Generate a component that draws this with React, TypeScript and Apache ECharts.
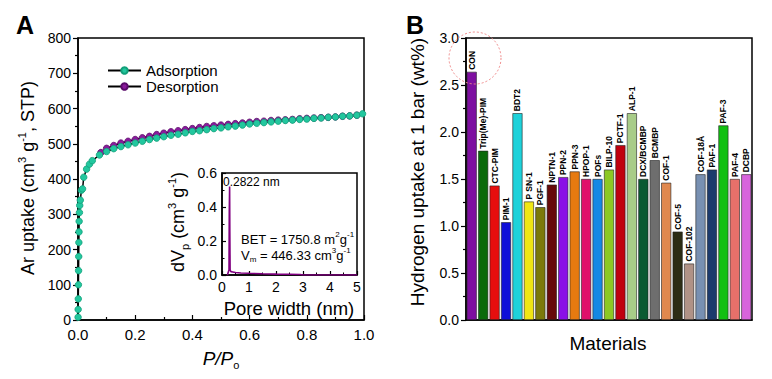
import React, { useEffect, useRef } from "react";
import * as echarts from "echarts";

const FONT = "'Liberation Sans', Arial, Helvetica, sans-serif";

// Panel A: Ar isotherm
const adsorptionP = [0.0003, 0.0006, 0.001, 0.0015, 0.002, 0.0025, 0.003, 0.0035, 0.004, 0.005, 0.006, 0.008, 0.012, 0.016, 0.02, 0.03, 0.04, 0.05, 0.075, 0.1, 0.125, 0.15, 0.175, 0.2, 0.225, 0.25, 0.275, 0.3, 0.325, 0.35, 0.375, 0.4, 0.425, 0.45, 0.475, 0.5, 0.525, 0.55, 0.575, 0.6, 0.625, 0.65, 0.675, 0.7, 0.725, 0.75, 0.775, 0.8, 0.825, 0.85, 0.875, 0.9, 0.925, 0.95, 0.975, 0.995];
const adsorptionV = [8, 30, 60, 100, 140, 180, 220, 250, 280, 305, 325, 340, 368, 372, 405, 428, 442, 452, 468, 478, 486, 492, 497, 502, 507, 512, 516, 520, 524, 527, 531, 535, 537, 540, 543, 545, 548, 550, 553, 556, 558, 560, 562, 564, 566, 567, 569, 570, 572, 573, 575, 576, 578, 579, 581, 585];
const desorptionP = [0.08, 0.1, 0.125, 0.15, 0.175, 0.2, 0.225, 0.25, 0.275, 0.3, 0.325, 0.35, 0.375, 0.4, 0.425, 0.45, 0.475, 0.5, 0.525, 0.55, 0.575, 0.6, 0.625, 0.65, 0.675, 0.7, 0.725, 0.75, 0.775, 0.8, 0.825, 0.85, 0.875, 0.9, 0.925, 0.95, 0.975];
const desorptionV = [475, 487, 495, 502, 507, 512, 517, 521, 526, 530, 534, 537, 540, 543, 546, 549, 551, 553, 555, 557, 559, 561, 563, 564, 566, 567, 568, 569, 571, 572, 573, 574, 575, 576, 578, 579, 581];

// Inset: pore size distribution
const poreWidth = [0.2, 0.24, 0.26, 0.27, 0.2822, 0.29, 0.3, 0.33, 0.4, 0.5, 0.7, 1.0, 1.5, 2.0, 2.5, 2.9, 3.0, 5.0];
const poreDv = [0, 0.02, 0.03, 0.38, 0.52, 0.25, 0.03, 0.02, 0.018, 0.015, 0.012, 0.01, 0.007, 0.005, 0.004, 0.003, 0, 0];

// Panel B: hydrogen uptake
const materials = ["CON", "Trip(Me)-PIM", "CTC-PIM", "PIM-1", "BDT2", "P SN-1", "PGF-1", "NPTN-1", "PPN-2", "PPN-3", "HPOP-1", "POFs", "BILP-10", "PCTF-1", "ALP-1", "DCX/BCMBP", "BCMBP", "COF-1", "COF-5", "COF-102", "COF-18Å", "PAF-1", "PAF-3", "PAF-4", "DCBP"];
const h2Uptake = [2.64, 1.8, 1.43, 1.04, 2.2, 1.26, 1.2, 1.44, 1.52, 1.58, 1.5, 1.5, 1.6, 1.86, 2.2, 1.5, 1.7, 1.46, 0.94, 0.6, 1.55, 1.6, 2.07, 1.5, 1.55];
const barColors = ["#7E0FA0", "#0A6A0A", "#E60E0E", "#0E0ED8", "#1ED2DA", "#F0E614", "#7C7A0A", "#660A0A", "#8A10E6", "#E67A10", "#E0106A", "#1488E4", "#8CC824", "#C0000E", "#A8CC88", "#0A5A32", "#6E6E6E", "#E0884E", "#2C2C14", "#B09286", "#7890B2", "#1C3A6C", "#12C012", "#E8706A", "#D864DC"];

const axisLine = { show: true, onZero: false, lineStyle: { color: "#000", width: 1.5 } };
const lbl = (size: number, digits: number) => ({
  color: "#000",
  fontSize: size,
  fontFamily: FONT,
  formatter: (v: number) => v.toFixed(digits),
});

export default function App() {
  const ref = useRef<HTMLDivElement>(null);
  useEffect(() => {
    document.body.style.margin = "0";
    if (!ref.current) return;
    const chart = echarts.init(ref.current, undefined, { renderer: "svg" });
    const supRich = {
      sup: { fontSize: 11, verticalAlign: "top", fontFamily: FONT, fill: "#000" },
      sub: { fontSize: 11, verticalAlign: "bottom", fontFamily: FONT, fill: "#000" },
      i: { fontSize: 19, fontStyle: "italic", fontFamily: FONT, fill: "#000" },
    };
    const smallRich = {
      sup: { fontSize: 8, verticalAlign: "top", fontFamily: FONT, fill: "#000" },
      sub: { fontSize: 8, verticalAlign: "bottom", fontFamily: FONT, fill: "#000" },
    };
    const option: any = {
      animation: false,
      backgroundColor: "#fff",
      textStyle: { fontFamily: FONT, color: "#000" },
      grid: [
        { left: 78, top: 38, width: 286, height: 282, show: true, borderColor: "#000", borderWidth: 1.5, backgroundColor: "transparent" },
        { left: 222, top: 173, width: 135, height: 102, show: true, borderColor: "#000", borderWidth: 1.5, backgroundColor: "#fff" },
        { left: 466, top: 38, width: 286, height: 282, show: true, borderColor: "#000", borderWidth: 1.5, backgroundColor: "transparent" },
      ],
      xAxis: [
        {
          gridIndex: 0, type: "value", min: 0, max: 1, interval: 0.2,
          axisLine, axisTick: { show: true, inside: true, length: 5, lineStyle: { color: "#000", width: 1.2 } },
          minorTick: { show: true, splitNumber: 2, length: 3, lineStyle: { color: "#000", width: 1.2 } },
          splitLine: { show: false }, axisLabel: { ...lbl(15, 1), margin: 7 },
        },
        {
          gridIndex: 1, type: "value", min: 0, max: 5, interval: 1,
          axisLine, axisTick: { show: true, inside: true, length: 4, lineStyle: { color: "#000", width: 1.2 } },
          minorTick: { show: true, splitNumber: 2, length: 2.5, lineStyle: { color: "#000", width: 1 } },
          splitLine: { show: false }, axisLabel: { ...lbl(14, 0), margin: 5 },
        },
        {
          gridIndex: 2, type: "category", data: materials,
          axisLine, axisTick: { show: false }, axisLabel: { show: false }, splitLine: { show: false },
        },
      ],
      yAxis: [
        {
          gridIndex: 0, type: "value", min: 0, max: 800, interval: 100,
          axisLine, axisTick: { show: true, inside: false, length: 5, lineStyle: { color: "#000", width: 1.2 } },
          minorTick: { show: true, splitNumber: 2, length: 3, lineStyle: { color: "#000", width: 1.2 } },
          splitLine: { show: false }, axisLabel: { ...lbl(14, 0), margin: 7 },
        },
        {
          gridIndex: 1, type: "value", min: 0, max: 0.6, interval: 0.2,
          axisLine, axisTick: { show: true, inside: true, length: 4, lineStyle: { color: "#000", width: 1.2 } },
          minorTick: { show: true, splitNumber: 2, length: 2.5, lineStyle: { color: "#000", width: 1 } },
          splitLine: { show: false }, axisLabel: { ...lbl(14, 1), margin: 5 },
        },
        {
          gridIndex: 2, type: "value", min: 0, max: 3, interval: 0.5,
          axisLine, axisTick: { show: true, inside: false, length: 5, lineStyle: { color: "#000", width: 1.2 } },
          minorTick: { show: true, splitNumber: 2, length: 3, lineStyle: { color: "#000", width: 1.2 } },
          splitLine: { show: false }, axisLabel: { ...lbl(14, 1), margin: 7 },
        },
      ],
      legend: {
        orient: "vertical", left: 102, top: 58, itemWidth: 33, itemHeight: 8, itemGap: 1,
        data: ["Adsorption", "Desorption"],
        textStyle: { fontSize: 15, fontFamily: FONT, color: "#000" },
      },
      series: [
        {
          name: "Desorption", type: "line", xAxisIndex: 0, yAxisIndex: 0,
          data: desorptionP.map((p, i) => [p, desorptionV[i]]),
          symbol: "circle", symbolSize: 6.5, showAllSymbol: true,
          lineStyle: { color: "#000", width: 1.5 },
          itemStyle: { color: "#8A1A9C", borderColor: "#5A0A6A", borderWidth: 0.8 },
        },
        {
          name: "Adsorption", type: "line", xAxisIndex: 0, yAxisIndex: 0,
          data: adsorptionP.map((p, i) => [p, adsorptionV[i]]),
          symbol: "circle", symbolSize: 6.5, showAllSymbol: true,
          lineStyle: { color: "#000", width: 1.5 },
          itemStyle: { color: "#22C79E", borderColor: "#12A07A", borderWidth: 0.8 },
        },
        {
          name: "PSD", type: "line", xAxisIndex: 1, yAxisIndex: 1,
          data: poreWidth.map((w, i) => [w, poreDv[i]]),
          symbol: "none", lineStyle: { color: "#800080", width: 1.6 },
        },
        {
          name: "H2", type: "bar", xAxisIndex: 2, yAxisIndex: 2,
          barWidth: 10,
          data: h2Uptake.map((v, i) => ({ value: v, itemStyle: { color: barColors[i] } })),
          itemStyle: { borderColor: "#222", borderWidth: 0.6 },
          label: {
            show: true, position: "top", rotate: 90, align: "left", verticalAlign: "middle",
            distance: 2, fontSize: 8.5, fontWeight: "bold", color: "#000", fontFamily: FONT,
            formatter: (p: any) => p.name,
          },
        },
      ],
      graphic: [
        { type: "text", x: 16, y: 25, style: { text: "A", fontSize: 25, fontWeight: "bold", fontFamily: FONT, fill: "#000", align: "left", verticalAlign: "middle" } },
        { type: "text", x: 406, y: 25, style: { text: "B", fontSize: 25, fontWeight: "bold", fontFamily: FONT, fill: "#000", align: "left", verticalAlign: "middle" } },
        {
          type: "text", x: 28, y: 178, rotation: Math.PI / 2,
          style: { text: "Ar uptake (cm{sup|3} g{sup|-1}, STP)", fontSize: 18, lineHeight: 24, fontFamily: FONT, fill: "#000", align: "center", verticalAlign: "middle", rich: supRich },
        },
        {
          type: "text", x: 221, y: 358,
          style: { text: "{i|P}{i|/}{i|P}{sub|o}", fontSize: 19, lineHeight: 24, fontFamily: FONT, fill: "#000", align: "center", verticalAlign: "middle", rich: supRich },
        },
        {
          type: "text", x: 178, y: 222, rotation: Math.PI / 2,
          style: { text: "dV{sub|p} (cm{sup|3} g{sup|-1})", fontSize: 18, lineHeight: 24, fontFamily: FONT, fill: "#000", align: "center", verticalAlign: "middle", rich: supRich },
        },
        { type: "text", x: 289, y: 308, style: { text: "Pore width (nm)", fontSize: 18.5, fontFamily: FONT, fill: "#000", align: "center", verticalAlign: "middle" } },
        { type: "text", x: 223, y: 182, z: 10, style: { text: "0.2822 nm", fontSize: 12, fontFamily: FONT, fill: "#000", align: "left", verticalAlign: "middle" } },
        { type: "text", x: 241, y: 239, z: 10, style: { text: "BET = 1750.8 m{sup|2}g{sup|-1}", fontSize: 13, lineHeight: 17, fontFamily: FONT, fill: "#000", align: "left", verticalAlign: "middle", rich: smallRich } },
        { type: "text", x: 241, y: 255, z: 10, style: { text: "V{sub|m} = 446.33 cm{sup|3}g{sup|-1}", fontSize: 13, lineHeight: 17, fontFamily: FONT, fill: "#000", align: "left", verticalAlign: "middle", rich: smallRich } },
        {
          type: "text", x: 417, y: 172, rotation: Math.PI / 2,
          style: { text: "Hydrogen uptake at 1 bar (wt%)", fontSize: 19, fontFamily: FONT, fill: "#000", align: "center", verticalAlign: "middle" },
        },
        { type: "text", x: 608, y: 343, style: { text: "Materials", fontSize: 19, fontFamily: FONT, fill: "#000", align: "center", verticalAlign: "middle" } },
        { type: "circle", z: 10, shape: { cx: 475, cy: 58, r: 26 }, style: { fill: "none", stroke: "#F08A8A", lineWidth: 1, lineDash: [2, 2] } },
      ],
    };
    chart.setOption(option);
    return () => chart.dispose();
  }, []);
  return <div ref={ref} style={{ width: 772, height: 379 }} />;
}
